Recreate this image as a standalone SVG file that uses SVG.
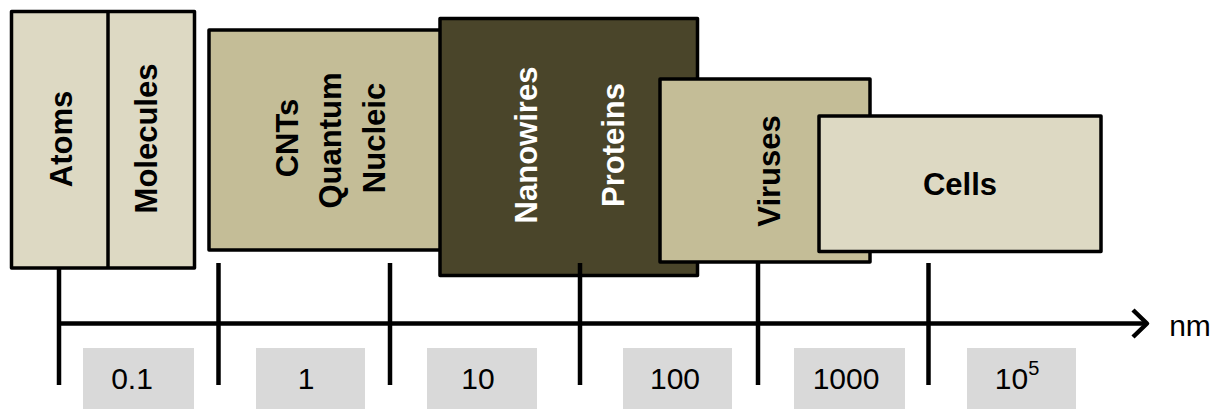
<svg xmlns="http://www.w3.org/2000/svg" width="1225" height="409" viewBox="0 0 1225 409">
  <style>
    .box { stroke: #000; stroke-width: 3.5; stroke-linejoin: round; }
    .light { fill: #DDD9C3; }
    .mid { fill: #C4BD97; }
    .dark { fill: #4A452A; }
    .lbl { font-family: "Liberation Sans", Arial, sans-serif; font-weight: bold; font-size: 31px; fill: #000; text-anchor: middle; }
    .lbl.inv { fill: #fff; }
    .axis { stroke: #000; stroke-width: 4.5; fill: none; stroke-linecap: butt; }
    .tag { fill: #D9D9D9; }
    .num { font-family: "Liberation Sans", Arial, sans-serif; font-size: 30px; fill: #000; text-anchor: middle; }
  </style>

  <!-- size classes -->
  <g id="atoms-molecules">
    <rect class="box light" x="11.5" y="11.5" width="183" height="256.5"/>
    <line class="box" x1="108" y1="11.5" x2="108" y2="268"/>
    <text class="lbl" transform="translate(72,139) rotate(-90)">Atoms</text>
    <text class="lbl" transform="translate(157,138.5) rotate(-90)">Molecules</text>
  </g>

  <g id="cnts">
    <rect class="box mid" x="209" y="30" width="240" height="220"/>
    <text class="lbl" transform="translate(298,138) rotate(-90)">CNTs</text>
    <text class="lbl" transform="translate(341,140.5) rotate(-90)">Quantum</text>
    <text class="lbl" transform="translate(385,138) rotate(-90)">Nucleic</text>
  </g>

  <g id="nanowires">
    <rect class="box dark" x="440" y="18.5" width="257.5" height="257"/>
    <text class="lbl inv" transform="translate(537,145) rotate(-90)">Nanowires</text>
    <text class="lbl inv" transform="translate(624,145) rotate(-90)">Proteins</text>
  </g>

  <g id="viruses">
    <rect class="box mid" x="660" y="79" width="210" height="183"/>
    <text class="lbl" transform="translate(780,171) rotate(-90)">Viruses</text>
  </g>

  <g id="cells">
    <rect class="box light" x="819" y="116" width="282" height="135.5"/>
    <text class="lbl" x="960" y="195">Cells</text>
  </g>

  <!-- scale axis with ticks -->
  <g id="connectors">
    <line class="axis" x1="57" y1="323.5" x2="1145" y2="323.5"/>
    <path class="axis" d="M1133,310 L1147,323.5 L1133,337" stroke-linecap="round" stroke-linejoin="round"/>
    <line class="axis" x1="59" y1="268" x2="59" y2="385"/>
    <line class="axis" x1="218.5" y1="263" x2="218.5" y2="385"/>
    <line class="axis" x1="390" y1="263" x2="390" y2="385"/>
    <line class="axis" x1="580" y1="263" x2="580" y2="385"/>
    <line class="axis" x1="758" y1="263" x2="758" y2="385"/>
    <line class="axis" x1="928.5" y1="263" x2="928.5" y2="385"/>
  </g>

  <g id="unit">
    <text class="num" x="1190" y="336" font-size="31">nm</text>
  </g>

  <!-- scale values -->
  <g id="values">
    <rect class="tag" x="83" y="348" width="111" height="61"/>
    <text class="num" x="132" y="389">0.1</text>
    <rect class="tag" x="256" y="348" width="109" height="61"/>
    <text class="num" x="306" y="389">1</text>
    <rect class="tag" x="427" y="348" width="110" height="61"/>
    <text class="num" x="478" y="389">10</text>
    <rect class="tag" x="623" y="348" width="109" height="61"/>
    <text class="num" x="675" y="389">100</text>
    <rect class="tag" x="794" y="348" width="111" height="61"/>
    <text class="num" x="846" y="389">1000</text>
    <rect class="tag" x="967" y="348" width="109" height="61"/>
    <text class="num" x="1017" y="389">10<tspan font-size="20" dy="-14">5</tspan></text>
  </g>
</svg>
